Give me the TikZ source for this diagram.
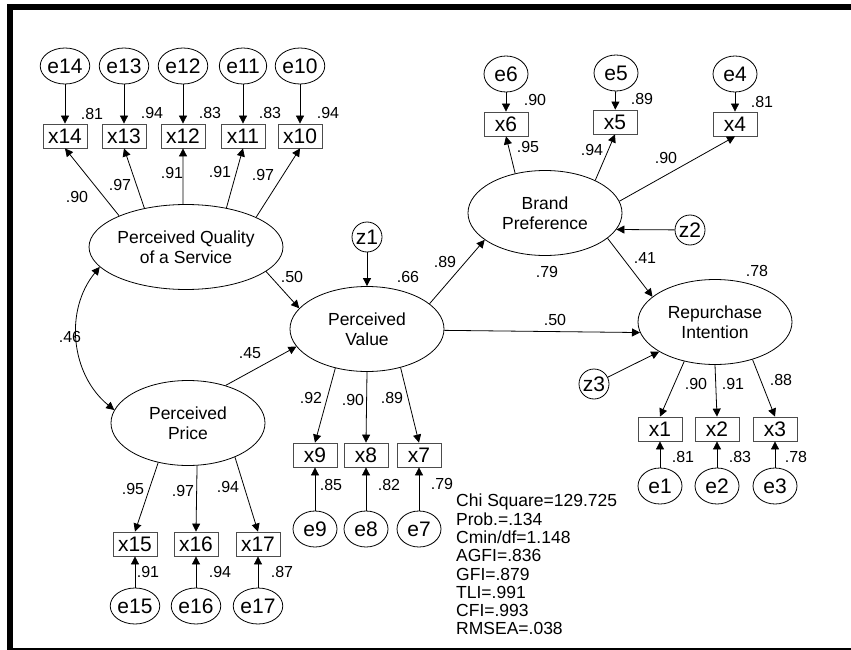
\documentclass[tikz,border=0pt]{standalone}
\usepackage{fontspec}
\setmainfont{Liberation Sans}
\usetikzlibrary{arrows.meta, shapes.geometric}

\begin{document}
\begin{tikzpicture}[x=1pt, y=-1pt,
  latent/.style={draw, ellipse, line width=0.8pt, minimum width=154pt, minimum height=85pt, inner sep=0pt, align=center, font=\fontsize{17.5}{20}\selectfont},
  errvar/.style={draw, ellipse, line width=0.8pt, minimum width=44pt, minimum height=36pt, inner sep=0pt, font=\fontsize{21}{21}\selectfont},
  distvar/.style={draw, circle, line width=0.8pt, minimum size=30pt, inner sep=0pt, font=\fontsize{21}{21}\selectfont},
  item/.style={draw=black!70, rectangle, line width=0.8pt, minimum width=44pt, minimum height=24pt, inner sep=0pt, font=\fontsize{21}{21}\selectfont},
  regr/.style={line width=0.8pt, -{Triangle[length=8pt,width=8pt]}},
  covar/.style={line width=0.8pt, {Triangle[length=8pt,width=8pt]}-{Triangle[length=8pt,width=8pt]}},
  coef/.style={inner sep=0pt, font=\fontsize{16}{16}\selectfont}
]
  \useasboundingbox (0,0) rectangle (851,650);
  \draw[line width=6pt] (880,651) -- (10,651) -- (10,7) -- (880,7);

  \node[latent] (quality) at (186,247) {Perceived Quality\\of a Service};
  \node[latent] (value) at (367,329) {Perceived\\Value};
  \node[latent] (price) at (188,423) {Perceived\\Price};
  \node[latent] (brand) at (545,213) {Brand\\Preference};
  \node[latent] (repurchase) at (715,322) {Repurchase\\Intention};

  \node[distvar] (z1) at (367,237) {z1};
  \node[distvar] (z2) at (690,230) {z2};
  \node[distvar] (z3) at (594,384) {z3};

  \node[item] (x14) at (65,136) {x14};
  \node[item] (x13) at (124,136) {x13};
  \node[item] (x12) at (183,136) {x12};
  \node[item] (x11) at (243,136) {x11};
  \node[item] (x10) at (300,136) {x10};
  \node[errvar] (e14) at (65,66) {e14};
  \node[errvar] (e13) at (124,66) {e13};
  \node[errvar] (e12) at (183,66) {e12};
  \node[errvar] (e11) at (243,66) {e11};
  \node[errvar] (e10) at (300,66) {e10};

  \node[item] (x6) at (506,124) {x6};
  \node[item] (x5) at (615,122) {x5};
  \node[item] (x4) at (735,124) {x4};
  \node[errvar] (e6) at (506,74) {e6};
  \node[errvar] (e5) at (616,73) {e5};
  \node[errvar] (e4) at (735,74) {e4};

  \node[item] (x9) at (315,455) {x9};
  \node[item] (x8) at (366,455) {x8};
  \node[item] (x7) at (419,455) {x7};
  \node[errvar] (e9) at (315,529) {e9};
  \node[errvar] (e8) at (366,529) {e8};
  \node[errvar] (e7) at (419,529) {e7};

  \node[item] (x15) at (135,544) {x15};
  \node[item] (x16) at (196,544) {x16};
  \node[item] (x17) at (258,544) {x17};
  \node[errvar] (e15) at (135,606) {e15};
  \node[errvar] (e16) at (196,606) {e16};
  \node[errvar] (e17) at (258,606) {e17};

  \node[item] (x1) at (660,429) {x1};
  \node[item] (x2) at (717,429) {x2};
  \node[item] (x3) at (775,429) {x3};
  \node[errvar] (e1) at (660,486) {e1};
  \node[errvar] (e2) at (717,486) {e2};
  \node[errvar] (e3) at (775,486) {e3};

  \draw[regr] (quality.155) -- (x14.south);
  \draw[regr] (quality.137) -- (x13.south);
  \draw[regr] (quality.94) -- (x12.south);
  \draw[regr] (quality.44) -- (x11.south);
  \draw[regr] (quality.23) -- (x10.south);
  \draw[regr] (e14) -- (x14);
  \draw[regr] (e13) -- (x13);
  \draw[regr] (e12) -- (x12);
  \draw[regr] (e11) -- (x11);
  \draw[regr] (e10) -- (x10);

  \draw[regr] (brand.127) -- (x6.south);
  \draw[regr] (brand.33) -- (x5.south);
  \draw[regr] (brand.9) -- (x4.south);
  \draw[regr] (e6) -- (x6);
  \draw[regr] (e5) -- (x5);
  \draw[regr] (e4) -- (x4);

  \draw[regr] (value.231) -- (x9.north);
  \draw[regr] (value.south) -- (x8.north);
  \draw[regr] (value.-49) -- (x7.north);
  \draw[regr] (e9) -- (x9);
  \draw[regr] (e8) -- (x8);
  \draw[regr] (e7) -- (x7);

  \draw[regr] (price.-127) -- (x15.north);
  \draw[regr] (price.-78) -- (x16.north);
  \draw[regr] (price.-36) -- (x17.north);
  \draw[regr] (e15) -- (x15);
  \draw[regr] (e16) -- (x16);
  \draw[regr] (e17) -- (x17);

  \draw[regr] (repurchase.-128) -- (x1.north);
  \draw[regr] (repurchase.south) -- (x2.north);
  \draw[regr] (repurchase.-45) -- (x3.north);
  \draw[regr] (e1) -- (x1);
  \draw[regr] (e2) -- (x2);
  \draw[regr] (e3) -- (x3);

  \draw[regr] (quality.-17) -- (value.163);
  \draw[regr] (price.45) -- (value.194);
  \draw[regr] (z1) -- (value);
  \draw[regr] (value.22) -- (brand.204);
  \draw[regr] (value.-1) -- (repurchase.188);
  \draw[regr] (z2) -- (brand.-13);
  \draw[regr] (brand.-22) -- (repurchase.158);
  \draw[regr] (z3) -- (repurchase.208);
  \draw[covar] (quality.193) to[bend right=45] (price.170);

  \node[coef] (r14) at (92,114) {.81};
  \node[coef] (r13) at (152,113) {.94};
  \node[coef] (r12) at (210,113) {.83};
  \node[coef] (r11) at (270,113) {.83};
  \node[coef] (r10) at (328,113) {.94};
  \node[coef] (l14) at (77,197) {.90};
  \node[coef] (l13) at (120,185) {.97};
  \node[coef] (l12) at (172,173) {.91};
  \node[coef] (l11) at (220,172) {.91};
  \node[coef] (l10) at (263,175) {.97};

  \node[coef] (r6) at (535,100) {.90};
  \node[coef] (r5) at (642,99) {.89};
  \node[coef] (r4) at (762,102) {.81};
  \node[coef] (l6) at (528,147) {.95};
  \node[coef] (l5) at (592,150) {.94};
  \node[coef] (l4) at (666,158) {.90};

  \node[coef] (l9) at (311,398) {.92};
  \node[coef] (l8) at (353,400) {.90};
  \node[coef] (l7) at (392,398) {.89};
  \node[coef] (r9) at (331,485) {.85};
  \node[coef] (r8) at (389,485) {.82};
  \node[coef] (r7) at (442,484) {.79};

  \node[coef] (l15) at (133,489) {.95};
  \node[coef] (l16) at (183,491) {.97};
  \node[coef] (l17) at (228,487) {.94};
  \node[coef] (r15) at (148,572) {.91};
  \node[coef] (r16) at (220,572) {.94};
  \node[coef] (r17) at (282,572) {.87};

  \node[coef] (l1) at (696,384) {.90};
  \node[coef] (l2) at (733,384) {.91};
  \node[coef] (l3) at (781,380) {.88};
  \node[coef] (r1) at (683,457) {.81};
  \node[coef] (r2) at (740,457) {.83};
  \node[coef] (r3) at (796,457) {.78};

  \node[coef] (cov) at (70,337) {.46};
  \node[coef] (b1) at (292,277) {.50};
  \node[coef] (b2) at (250,353) {.45};
  \node[coef] (rv) at (408,277) {.66};
  \node[coef] (b3) at (445,262) {.89};
  \node[coef] (b4) at (555,320) {.50};
  \node[coef] (rb) at (547,272) {.79};
  \node[coef] (b5) at (645,258) {.41};
  \node[coef] (rr) at (757,271) {.78};

  \node[anchor=north west, inner sep=0pt, align=left, font=\fontsize{17.5}{18.3}\selectfont] (fit) at (456,494) {Chi Square=129.725\\Prob.=.134\\Cmin/df=1.148\\AGFI=.836\\GFI=.879\\TLI=.991\\CFI=.993\\RMSEA=.038};
\end{tikzpicture}
\end{document}
